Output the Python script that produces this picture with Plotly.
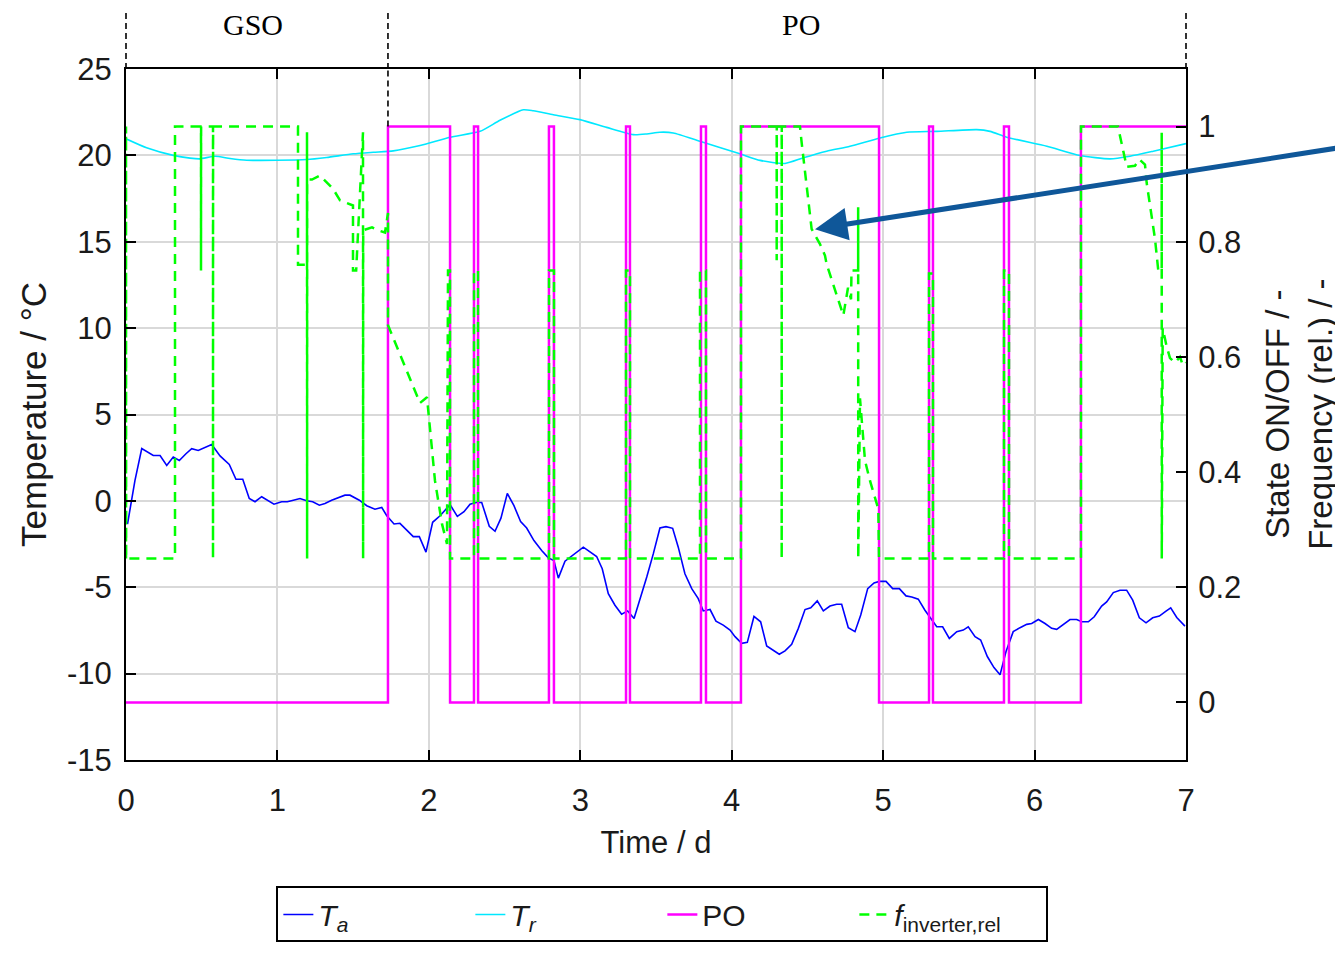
import plotly.graph_objects as go

# ---------------- data ----------------
# ambient temperature T_a (day, degC)
ta_t = [0.01, 0.059, 0.104, 0.180, 0.225, 0.269, 0.312, 0.352, 0.396, 0.434,
        0.477, 0.522, 0.566, 0.621, 0.682, 0.726, 0.771, 0.814, 0.852, 0.896,
        0.940, 0.977, 1.028, 1.065, 1.105, 1.149, 1.193, 1.233, 1.277, 1.314,
        1.358, 1.409, 1.446, 1.479, 1.541, 1.590, 1.644, 1.689, 1.722, 1.770,
        1.809, 1.854, 1.897, 1.937, 1.981, 2.025, 2.074, 2.140, 2.188, 2.232,
        2.272, 2.311, 2.349, 2.399, 2.437, 2.476, 2.518, 2.562, 2.606, 2.646,
        2.694, 2.745, 2.789, 2.826, 2.855, 2.899, 2.954, 3.020, 3.108, 3.145,
        3.185, 3.229, 3.273, 3.313, 3.355, 3.394, 3.439, 3.482, 3.526, 3.566,
        3.610, 3.647, 3.691, 3.736, 3.779, 3.812, 3.857, 3.896, 3.944, 3.989,
        4.022, 4.066, 4.103, 4.147, 4.191, 4.231, 4.275, 4.314, 4.352, 4.396,
        4.440, 4.484, 4.522, 4.565, 4.605, 4.649, 4.693, 4.726, 4.770, 4.814,
        4.852, 4.898, 4.940, 4.975, 5.019, 5.063, 5.107, 5.151, 5.189, 5.232,
        5.276, 5.321, 5.354, 5.393, 5.437, 5.486, 5.529, 5.562, 5.607, 5.644,
        5.688, 5.732, 5.772, 5.811, 5.859, 5.904, 5.948, 5.981, 6.025, 6.069,
        6.113, 6.146, 6.190, 6.234, 6.278, 6.311, 6.355, 6.394, 6.443, 6.476,
        6.520, 6.564, 6.608, 6.648, 6.692, 6.736, 6.780, 6.824, 6.868, 6.899,
        6.939, 6.993]
ta_v = [-1.34, 1.17, 3.03, 2.63, 2.63, 2.05, 2.54, 2.34, 2.73, 3.02,
        2.92, 3.07, 3.26, 2.60, 2.11, 1.25, 1.25, 0.14, -0.05, 0.24,
        0.01, -0.19, -0.05, -0.05, 0.04, 0.14, 0.01, -0.05, -0.25, -0.15,
        0.04, 0.20, 0.33, 0.33, 0.04, -0.28, -0.48, -0.38, -0.86, -1.34,
        -1.30, -1.69, -2.07, -2.07, -2.97, -1.24, -0.86, -0.22, -0.90, -0.63,
        -0.19, -0.09, -0.09, -1.47, -1.76, -1.00, 0.43, -0.28, -1.20, -1.57,
        -2.30, -2.87, -3.30, -3.45, -4.47, -3.49, -3.10, -2.68, -3.22, -3.93,
        -5.37, -6.04, -6.56, -6.37, -6.81, -5.72, -4.41, -3.07, -1.57, -1.49,
        -1.59, -2.68, -4.22, -5.08, -5.66, -6.37, -6.29, -6.96, -7.19, -7.48,
        -7.86, -8.25, -8.19, -6.69, -7.00, -8.40, -8.68, -8.88, -8.68, -8.30,
        -7.38, -6.29, -6.19, -5.79, -6.37, -6.09, -5.98, -5.98, -7.34, -7.57,
        -6.61, -5.08, -4.75, -4.66, -4.66, -5.08, -5.08, -5.50, -5.56, -5.69,
        -6.33, -6.90, -7.29, -7.29, -7.96, -7.57, -7.48, -7.29, -7.86, -8.05,
        -9.01, -9.65, -10.07, -8.73, -7.57, -7.34, -7.15, -7.10, -6.87, -7.10,
        -7.38, -7.44, -7.15, -6.87, -6.87, -7.00, -7.00, -6.71, -6.09, -5.85,
        -5.31, -5.17, -5.17, -5.75, -6.77, -7.06, -6.77, -6.67, -6.38, -6.19,
        -6.75, -7.25]

# room temperature T_r (day, degC)
tr_t = [0.0, 0.136, 0.312, 0.423, 0.489, 0.588, 0.687, 0.797, 0.995, 1.193,
        1.325, 1.501, 1.633, 1.765, 1.942, 2.140, 2.338, 2.470, 2.624, 2.690,
        2.822, 2.998, 3.174, 3.350, 3.439, 3.526, 3.614, 3.790, 4.054, 4.187,
        4.352, 4.473, 4.627, 4.781, 4.979, 5.156, 5.354, 5.618, 5.706, 5.816,
        6.081, 6.300, 6.498, 6.630, 6.784, 7.0]
tr_v = [20.96, 20.44, 20.00, 19.84, 19.80, 19.95, 19.82, 19.72, 19.72, 19.76,
        19.88, 20.09, 20.18, 20.26, 20.57, 21.05, 21.39, 22.03, 22.64, 22.58,
        22.35, 22.07, 21.62, 21.20, 21.24, 21.34, 21.30, 20.82, 20.09, 19.71,
        19.53, 19.86, 20.24, 20.53, 21.01, 21.34, 21.39, 21.49, 21.39, 21.05,
        20.53, 19.99, 19.80, 19.95, 20.24, 20.68]

# PO state (switching times, day; state after switch)
po_t = [0.0, 1.730, 2.140, 2.298, 2.325, 2.793, 2.826, 3.302, 3.328, 3.797,
        3.830, 4.061, 4.973, 5.303, 5.329, 5.798, 5.831, 6.306, 7.0]
po_v = [0, 1, 0, 1, 0, 1, 0, 1, 0, 1,
        0, 1, 0, 1, 0, 1, 0, 1, 1]

# relative inverter frequency
f_t = [0.0, 0.0, 0.001, 0.3236, 0.3236, 0.4953, 0.4953, 0.4960, 0.5745, 0.5745,
       0.5752, 1.1358, 1.1358, 1.1953, 1.1953, 1.1960, 1.1966, 1.2283, 1.2811, 1.3670,
       1.4130, 1.4990, 1.4990, 1.5200, 1.5651, 1.5658, 1.5665, 1.6245, 1.6641, 1.7104,
       1.7302, 1.7302, 1.8953, 1.9415, 1.9877, 2.0075, 2.0405, 2.0868, 2.1198, 2.1264,
       2.1396, 2.1396, 2.2981, 2.2981, 2.3245, 2.3245, 2.7934, 2.7934, 2.8264, 2.8264,
       3.3019, 3.3019, 3.3283, 3.3283, 3.7906, 3.7906, 3.8302, 3.8302, 4.0613, 4.0613,
       4.2970, 4.2970, 4.2977, 4.3300, 4.3300, 4.3307, 4.4509, 4.4619, 4.5279, 4.5830,
       4.6160, 4.6270, 4.7370, 4.7679, 4.7880, 4.7910, 4.8350, 4.8350, 4.8357, 4.8471,
       4.8802, 4.9131, 4.9680, 4.9726, 5.3028, 5.3028, 5.3292, 5.3292, 5.7981, 5.7981,
       5.8311, 5.8311, 6.3065, 6.3065, 6.5509, 6.6083, 6.6631, 6.6915, 6.7292, 6.7404,
       6.7952, 6.8170, 6.8395, 6.8395, 6.8400, 6.8461, 6.8725, 6.8943, 6.9273, 6.9604,
       6.9800, 7.0]
f_v = [0.25, 1.0, 0.25, 0.25, 1.0, 1.0, 0.75, 1.0, 1.0, 0.25,
       1.0, 1.0, 0.76, 0.76, 0.99, 0.25, 0.908, 0.908, 0.915, 0.892,
       0.872, 0.863, 0.75, 0.75, 0.99, 0.25, 0.82, 0.825, 0.82, 0.816,
       0.85, 0.655, 0.55, 0.52, 0.53, 0.47, 0.385, 0.31, 0.275, 0.75,
       0.75, 0.25, 0.25, 0.75, 0.75, 0.25, 0.25, 0.75, 0.75, 0.25,
       0.25, 0.75, 0.75, 0.25, 0.25, 0.75, 0.75, 0.25, 0.25, 1.0,
       1.0, 0.768, 1.0, 1.0, 0.25, 1.0, 1.0, 0.972, 0.822, 0.796,
       0.776, 0.761, 0.672, 0.72, 0.70, 0.75, 0.75, 0.86, 0.25, 0.528,
       0.42, 0.385, 0.336, 0.25, 0.25, 0.745, 0.745, 0.25, 0.25, 0.75,
       0.75, 0.25, 0.25, 1.0, 1.0, 0.93, 0.932, 0.943, 0.934, 0.902,
       0.805, 0.75, 0.75, 0.99, 0.25, 0.65, 0.618, 0.598, 0.59, 0.60,
       0.585, 0.59]

# operation phases
phase_bounds = [0.0, 1.73, 7.0]
phase_labels = ["GSO", "PO"]
phase_label_x = [0.84, 4.46]

x_ticks = [0, 1, 2, 3, 4, 5, 6, 7]
y_ticks = [-15, -10, -5, 0, 5, 10, 15, 20, 25]
y_ticktext = ["-15", "-10", "-5", "0", "5", "10", "15", "20", "25"]
y2_ticks = [0, 0.2, 0.4, 0.6, 0.8, 1.0]
y2_ticktext = ["0", "0.2", "0.4", "0.6", "0.8", "1"]

# ---------------- figure ----------------
FONT = "Liberation Sans, Arial, sans-serif"
TXT = "#1a1a1a"
x_range = [0, 7]
y_range = [-15, 25]
y2_range = [-0.1, 1.1]

fig = go.Figure()
fig.add_trace(go.Scatter(x=ta_t, y=ta_v, mode="lines", yaxis="y",
                         line=dict(color="#0000ff", width=1.6),
                         name="<i>T</i><sub><i>a</i></sub>"))
fig.add_trace(go.Scatter(x=tr_t, y=tr_v, mode="lines", yaxis="y",
                         line=dict(color="#00e8ff", width=1.6, shape="spline", smoothing=0.6),
                         name="<i>T</i><sub><i>r</i></sub>"))
fig.add_trace(go.Scatter(x=po_t, y=po_v, mode="lines", yaxis="y2",
                         line=dict(color="#ff00ff", width=2.5, shape="hv"),
                         name="PO"))
fig.add_trace(go.Scatter(x=f_t, y=f_v, mode="lines", yaxis="y2",
                         line=dict(color="#00ff00", width=2.5, dash="10px,7px"),
                         name="<i>f</i><sub>inverter,rel</sub>"))

axis_common = dict(showline=True, linecolor="black", linewidth=2,
                   ticks="inside", ticklen=10, tickwidth=2, tickcolor="black",
                   zeroline=False,
                   tickfont=dict(family=FONT, size=31, color=TXT))

# the page body has an 8 px margin: figure is made smaller and shifted accordingly
fig.update_layout(
    width=1335, height=946,
    margin=dict(l=118, r=157, t=61, b=190),
    paper_bgcolor="white", plot_bgcolor="white",
    font=dict(family=FONT, color=TXT),
    xaxis=dict(range=x_range, tickvals=x_ticks, mirror="ticks",
               showgrid=True, gridcolor="#d9d9d9", gridwidth=1.5,
               ticklabelstandoff=12,
               title=dict(text="Time / d", font=dict(family=FONT, size=31, color=TXT), standoff=14),
               **axis_common),
    yaxis=dict(range=y_range, tickvals=y_ticks, ticktext=y_ticktext,
               showgrid=True, gridcolor="#d9d9d9", gridwidth=1.5,
               ticklabelstandoff=6,
               title=dict(text="Temperature / °C", font=dict(family=FONT, size=35, color=TXT), standoff=10),
               **axis_common),
    yaxis2=dict(range=y2_range, tickvals=y2_ticks, ticktext=y2_ticktext,
                overlaying="y", side="right", showgrid=False,
                ticklabelstandoff=4,
                **axis_common),
    legend=dict(orientation="h", x=0.506, xanchor="center", y=-0.183, yanchor="top",
                bordercolor="black", borderwidth=2, bgcolor="white",
                font=dict(family=FONT, size=30, color=TXT),
                entrywidth=147, entrywidthmode="pixels"),
    showlegend=True,
)

# right axis title as rotated two-line text
fig.add_annotation(xref="paper", yref="paper", x=1.106, y=0.5,
                   text="State ON/OFF / -<br>Frequency (rel.) / -",
                   textangle=-90, showarrow=False,
                   font=dict(family=FONT, size=33, color=TXT),
                   xanchor="center", yanchor="middle")

# phase boundaries (dashed) and labels above the plot
top_ext = 1.085
y_inside = (1.0 - y2_range[0]) / (y2_range[1] - y2_range[0])
for b in phase_bounds:
    xp = (b - x_range[0]) / (x_range[1] - x_range[0])
    fig.add_shape(type="line", xref="paper", yref="paper", x0=xp, x1=xp, y0=1.0, y1=top_ext,
                  line=dict(color="black", width=1.6, dash="6px,4px"))
    if 0 < b < x_range[1]:
        fig.add_shape(type="line", xref="paper", yref="paper", x0=xp, x1=xp, y0=y_inside, y1=1.0,
                      line=dict(color="black", width=1.6, dash="6px,4px"))
for lab, lx in zip(phase_labels, phase_label_x):
    fig.add_annotation(xref="x", yref="paper", x=lx, y=1.065, text=lab, showarrow=False,
                       font=dict(family="Liberation Serif, Times New Roman, serif", size=30, color="black"),
                       xanchor="center", yanchor="middle")

# blue arrow pointing at the frequency curve
fig.add_annotation(xref="x", yref="y", x=4.55, y=15.73, text="", showarrow=True,
                   ax=528, ay=-82, arrowhead=2, arrowsize=1.3, arrowwidth=5,
                   arrowcolor="#0f5799")

fig.write_html("out.html")
